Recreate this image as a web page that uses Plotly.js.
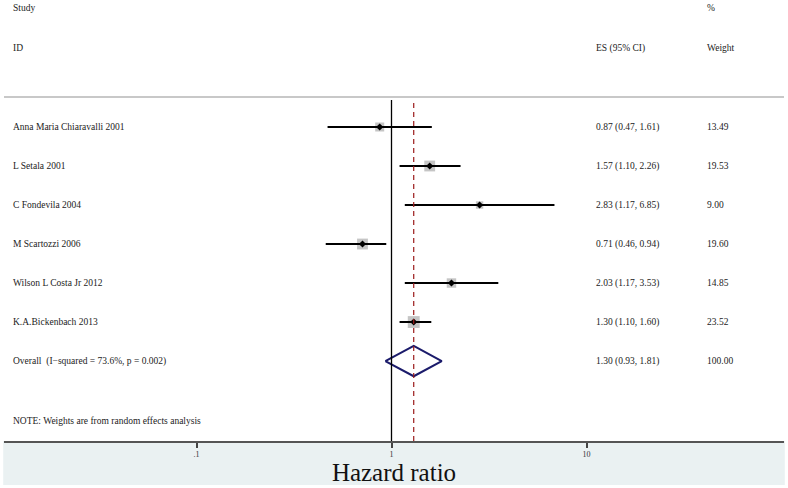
<!DOCTYPE html>
<html>
<head>
<meta charset="utf-8">
<script src="https://cdn.plot.ly/plotly-3.0.1.min.js"></script>
<style>html,body{margin:0;padding:0;background:#fff;}#chart{width:788px;height:488px;}</style>
</head>
<body>
<div id="chart"></div>
<script>
// ---- data ----
var studies = ["Anna Maria Chiaravalli 2001", "L Setala 2001", "C Fondevila 2004", "M Scartozzi 2006", "Wilson L Costa Jr 2012", "K.A.Bickenbach 2013"];
var hr = [0.87, 1.57, 2.83, 0.71, 2.03, 1.30];
var ciLow = [0.47, 1.10, 1.17, 0.46, 1.17, 1.10];
var ciHigh = [1.61, 2.26, 6.85, 0.94, 3.53, 1.60];
var weights = [13.49, 19.53, 9.00, 19.60, 14.85, 23.52];
var overallLabel = "Overall  (I\u2212squared = 73.6%, p = 0.002)";
var overallES = 1.30;
var overallLow = 0.93;
var overallHigh = 1.81;
var overallWeight = 100.00;
var tickVals = [0.1, 1, 10];
var tickText = [".1", "1", "10"];
var noteText = "NOTE: Weights are from random effects analysis";

// ---- build ----
var rows = studies.map(function (_, i) { return i + 1; });
var overallRow = studies.length + 1;
function fmt(v) { return v.toFixed(2); }

var ciX = [], ciY = [];
for (var i = 0; i < studies.length; i++) {
  ciX.push(ciLow[i], ciHigh[i], null);
  ciY.push(rows[i], rows[i], null);
}

var serif = "Liberation Serif, Times New Roman, serif";

var traces = [
  { type: "scatter", mode: "markers", x: hr, y: rows, hoverinfo: "skip",
    marker: { symbol: "square", color: "#acacac", size: weights.map(function (w) { return Math.sqrt(w) * 2.45; }), line: { width: 0 } } },
  { type: "scatter", mode: "lines", x: ciX, y: ciY, hoverinfo: "skip",
    line: { color: "#000", width: 2 } },
  { type: "scatter", mode: "markers", x: hr, y: rows, hoverinfo: "skip",
    marker: { symbol: "diamond", color: "#000", size: 5.5 } },
  { type: "scatter", mode: "lines", hoverinfo: "skip",
    x: [overallLow, overallES, overallHigh, overallES, overallLow],
    y: [overallRow, overallRow - 0.39, overallRow, overallRow + 0.39, overallRow],
    line: { color: "#1b1b6b", width: 2 } }
];

var annotations = [];
function addText(text, x, y, yref, size) {
  annotations.push({ text: text, x: x, y: y, xref: "paper", yref: yref, xanchor: "left", yanchor: "middle",
    showarrow: false, font: { family: serif, size: size || 9.5, color: "#222" } });
}
var xStudy = 0.009, xES = 0.7564, xW = 0.8987;
addText("Study", xStudy, 0.981, "paper");
addText("ID", xStudy, 0.891, "paper");
addText("%", xW, 0.981, "paper");
addText("ES (95% CI)", xES, 0.891, "paper");
addText("Weight", xW, 0.891, "paper");
for (var j = 0; j < studies.length; j++) {
  addText(studies[j], xStudy, rows[j], "y");
  addText(fmt(hr[j]) + " (" + fmt(ciLow[j]) + ", " + fmt(ciHigh[j]) + ")", xES, rows[j], "y");
  addText(fmt(weights[j]), xW, rows[j], "y");
}
addText(overallLabel, xStudy, overallRow, "y");
addText(fmt(overallES) + " (" + fmt(overallLow) + ", " + fmt(overallHigh) + ")", xES, overallRow, "y");
addText(fmt(overallWeight), xW, overallRow, "y");
addText(noteText, xStudy, overallRow + 1.53, "y");

var shapes = [
  { type: "rect", xref: "paper", yref: "paper", x0: -0.001, x1: 1.001, y0: -0.1, y1: 0, layer: "below",
    fillcolor: "#eaf1f2", line: { width: 0 } },
  { type: "line", xref: "paper", yref: "paper", x0: 0, x1: 1, y0: 0.78, y1: 0.78,
    line: { color: "#c8c8c8", width: 2 } },
  { type: "line", xref: "x", yref: "paper", x0: 1, x1: 1, y0: 0, y1: 0.773,
    line: { color: "#000", width: 1.3 } },
  { type: "line", xref: "x", yref: "paper", x0: overallES, x1: overallES, y0: 0, y1: 0.773,
    line: { color: "#9b1b1b", width: 1.2, dash: "5px,4px" } }
];

var layout = {
  width: 788, height: 488,
  margin: { l: 4, r: 4, t: 0, b: 47, pad: 0 },
  paper_bgcolor: "#fff", plot_bgcolor: "#fff",
  showlegend: false,
  xaxis: { type: "log", range: [Math.log10(0.0103), Math.log10(103)], showgrid: false, zeroline: false,
    showline: true, linecolor: "#555", linewidth: 2, ticks: "outside", ticklen: 5, tickwidth: 2, tickcolor: "#444",
    ticklabelstandoff: -1,
    tickvals: tickVals, ticktext: tickText, tickfont: { family: serif, size: 8, color: "#333" },
    title: { text: "Hazard ratio", font: { family: serif, size: 25, color: "#111" }, standoff: 4 } },
  yaxis: { range: [9.05, -2.256], showgrid: false, zeroline: false, showline: false, showticklabels: false, ticks: "" },
  shapes: shapes,
  annotations: annotations
};

Plotly.newPlot("chart", traces, layout, { displayModeBar: false, staticPlot: true });
</script>
</body>
</html>
